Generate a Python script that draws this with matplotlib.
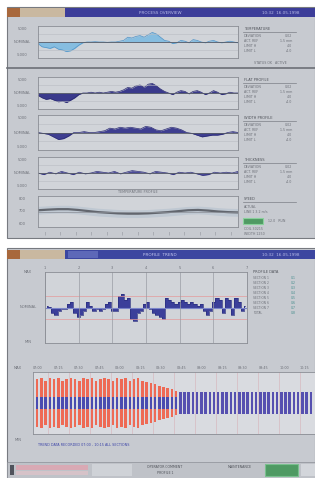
import numpy as np
import matplotlib.pyplot as plt
from matplotlib.patches import Rectangle

W, H = 315, 478

# --- data (arbitrary units) ---
trend1 = [-0.1, -0.3, -0.35, -0.4, -0.3, -0.45, -0.5, -0.6, -0.55, -0.4, -0.2, -0.05, 0, 0, 0.02,
          0, 0, -0.02, 0, 0, 0.05, 0.1, 0.3, 0.25, 0.35, 0.4, 0.3, 0.45, 0.6, 0.5, 0.3, 0.1, 0.05,
          -0.1, -0.05, 0.1, 0.05, -0.05, 0.15, 0.1, 0, -0.05, 0.05, 0.1, 0, -0.05, 0, 0.05, 0, -0.05]
trend2 = [-0.15, -0.3, -0.4, -0.35, -0.45, -0.55, -0.5, -0.6, -0.45, -0.3, -0.1, 0, 0, 0.05, 0,
          0.05, 0, 0.05, 0.1, 0.05, 0.1, 0.2, 0.35, 0.3, 0.45, 0.5, 0.35, 0.55, 0.6, 0.45, 0.25, 0.1,
          0, -0.1, 0.05, 0.15, 0.1, -0.05, 0.1, 0.15, 0.05, -0.1, 0, 0.15, 0.05, -0.1, -0.05, 0.05, 0, 0]
trend3 = [0, -0.05, -0.1, -0.25, -0.4, -0.35, -0.2, 0, 0, 0.05, 0, 0, 0.05, 0.1, 0.25, 0.2, 0.3,
          0.25, 0.3, 0.25, 0.2, 0.35, 0.3, 0.15, 0.1, 0.2, 0.3, 0.25, 0.15, 0, -0.05, -0.15, -0.25,
          -0.2, -0.15, -0.15, -0.1, 0, 0.05, 0]
trend4 = [0, -0.1, 0.05, -0.05, 0.1, 0, -0.1, 0.05, -0.05, 0, 0.1, 0.05, 0, 0.1, -0.05, 0.05, 0.15,
          0.1, 0.05, -0.05, 0.1, 0.05, 0, -0.1, 0.05, 0, 0.05, -0.05, -0.15, -0.1, 0.05, 0, 0.05, 0, 0.1]
trend5 = [0.08, 0.12, 0.15, 0.15, 0.1, 0.03, -0.04, -0.08, -0.12, -0.14, -0.14, -0.12, -0.08, -0.04,
          0.02, 0.08, 0.1, 0.06, 0, -0.04, -0.06]
profile = [0.06, 0.03, -0.18, -0.24, -0.12, -0.06, -0.06, 0.12, 0.18, -0.18, -0.3, -0.24, -0.12,
           0.18, 0.06, -0.12, -0.06, -0.12, -0.06, 0.12, 0.18, -0.12, -0.12, 0.36, 0.42, 0.24, 0.3,
           -0.36, -0.42, -0.18, -0.12, 0.12, 0.18, -0.06, -0.18, -0.24, -0.3, -0.36, 0.3, 0.24, 0.18,
           0.12, 0.18, 0.24, 0.18, 0.12, 0.18, 0.12, 0.06, 0.12, -0.12, -0.24, -0.12, 0.18, 0.3,
           0.24, -0.18, 0.3, 0.24, -0.24, 0.3, 0.18, -0.12, 0.06]
bar_red = [0.95, 1.0, 0.9, 1.0, 0.95, 1.0, 0.9, 0.95, 1.0, 0.95, 0.9, 1.0, 0.95, 1.0, 0.9, 0.95,
           1.0, 0.95, 0.9, 1.0, 0.95, 1.0, 0.9, 0.95, 1.0, 0.9, 0.85, 0.8, 0.75, 0.7, 0.65, 0.6,
           0.55, 0.5, 0.45, 0.45, 0.45, 0.45, 0.45, 0.45, 0.45, 0.45, 0.45, 0.45, 0.45, 0.45, 0.45,
           0.45, 0.45, 0.45, 0.45, 0.45, 0.45, 0.45, 0.45, 0.45, 0.45, 0.45, 0.45, 0.45, 0.45,
           0.45, 0.45, 0.45, 0.45, 0.45]
bar_blue = [0.45] * 28 + [0.45] * 4 + [0.45] * 34
top_ticks = ['1', '2', '3', '4', '5', '6', '7']
bot_ticks = ['07:00', '07:15', '07:30', '07:45', '08:00', '08:15', '08:30', '08:45', '09:00',
             '09:15', '09:30', '09:45', '10:00', '10:15']

BG = '#c7cad0'
PLOT = '#d1d4d9'
NAVY = '#3c3d99'
TXT = '#6d7078'

fig = plt.figure(figsize=(W / 100, H / 100), dpi=100)
fig.patch.set_facecolor('white')
base = fig.add_axes([0, 0, 1, 1])
base.set_xlim(0, W)
base.set_ylim(H, 0)
base.axis('off')


def rect(x, y, w, h, fc, ec='none', lw=0.6, z=1):
    base.add_patch(Rectangle((x, y), w, h, fc=fc, ec=ec, lw=lw, zorder=z))


def txt(x, y, s, size=2.6, color=TXT, **kw):
    base.text(x, y, s, fontsize=size, color=color, va='center', **kw)


def data_ax(x, y, w, h):
    ax = fig.add_axes([x / W, 1 - (y + h) / H, w / W, h / H])
    ax.set_facecolor(PLOT)
    for s in ax.spines.values():
        s.set_color('#8a8d94')
        s.set_linewidth(0.6)
    ax.set_xticks([])
    ax.set_yticks([])
    return ax


# ---------- upper screen ----------
rect(7, 7, 308, 231, BG, ec='#777a80', lw=0.8)
rect(7, 8, 308, 9, NAVY)
rect(7, 8, 58, 9, '#a8683c')
rect(20, 8, 45, 9, '#c9b8a0')
txt(160, 12.5, 'PROCESS OVERVIEW', 3, '#b8bce8', ha='center')
txt(300, 12.5, '10:32  16.05.1998', 3, '#b8bce8', ha='right')
base.plot([7, 315], [68, 68], color='#6c6f76', lw=1.2, zorder=2)

panels = [(26, trend1, '#86bde0', '#4f93c8'), (77, trend2, '#3a3a8c', '#2a2a70'),
          (115, trend3, '#3e3e90', '#2b2b75'), (157, trend4, '#4a4a98', '#30307a')]
heads = ['TEMPERATURE', 'FLAT PROFILE', 'WIDTH PROFILE', 'THICKNESS']
for (y0, vals, fc, lc), head in zip(panels, heads):
    h = 32 if y0 != 115 else 35
    ax = data_ax(38, y0, 200, h)
    xs = np.arange(len(vals))
    ax.fill_between(xs, 0, vals, color=fc, lw=0)
    ax.plot(xs, vals, color=lc, lw=0.5)
    ax.axhline(0, color='#555a66', lw=0.6)
    for g in (-0.5, 0.5):
        ax.axhline(g, color='#b9bcc2', lw=0.4)
    ax.set_xlim(0, len(vals) - 1)
    ax.set_ylim(-1, 1)
    txt(22, y0 + 3, '5000', ha='center')
    txt(22, y0 + h / 2, 'NOMINAL', ha='center')
    txt(22, y0 + h - 3, '-5000', ha='center')
    txt(244, y0 + 3, head, 2.6, '#50535a')
    base.plot([243, 296], [y0 + 6, y0 + 6], color='#7c7f86', lw=0.5)
    for i, (a, b) in enumerate([('DEVIATION', '0.02'), ('ACT. REF', '1.5 mm'),
                                ('LIMIT H', '4.0'), ('LIMIT L', '-4.0')]):
        txt(244, y0 + 10 + i * 5, a, 2.3)
        txt(292, y0 + 10 + i * 5, b, 2.3, ha='right')
txt(270, 63, 'STATUS OK   ACTIVE', 2.3, ha='center')

# smooth gray trend
txt(138, 192, 'TEMPERATURE PROFILE', 2.4, ha='center')
ax5 = data_ax(38, 196, 200, 31)
xs5 = np.arange(len(trend5))
ax5.fill_between(xs5, np.array(trend5) - 0.25, np.array(trend5) + 0.25, color='#bfc8d2', lw=0)
ax5.plot(xs5, trend5, color='#62666e', lw=1.6)
ax5.axhline(0, color='#8a8e96', lw=0.5)
ax5.set_xlim(0, len(trend5) - 1)
ax5.set_ylim(-1, 1)
txt(22, 199, '800', ha='center')
txt(22, 211, '700', ha='center')
txt(22, 224, '600', ha='center')
txt(244, 199, 'SPEED', 2.6, '#50535a')
base.plot([243, 296], [202, 202], color='#7c7f86', lw=0.5)
txt(244, 207, 'ACTUAL', 2.3)
txt(244, 212, 'LINE 1 3.2 m/s', 2.3)
rect(243, 218, 20, 6, '#4f9a63', ec='#8ad19c', lw=0.8, z=3)
txt(268, 221, '12.0   RUN', 2.3)
txt(244, 229, 'COIL 30215', 2.3)
txt(244, 234, 'WIDTH 1250', 2.3)
for k in range(13):
    txt(45 + k * 15.5, 233, '|', 2.3, ha='center')

# ---------- lower screen ----------
rect(7, 248, 308, 230, BG, ec='#777a80', lw=0.8)
rect(7, 250, 308, 9, '#3c46a0')
rect(7, 250, 58, 9, '#a8683c')
rect(20, 250, 45, 9, '#c9b8a0')
rect(68, 251, 30, 7, '#5d68b8')
txt(160, 254.5, 'PROFILE  TREND', 3, '#c4c8f0', ha='center')
txt(300, 254.5, '10:32  16.05.1998', 3, '#b8bce8', ha='right')

axp = data_ax(45, 272, 202, 71)
xp = np.arange(len(profile))
axp.fill_between(xp, 0, profile, color='#3b3f9a', lw=0, step='mid')
axp.step(xp, profile, where='mid', color='#2b2f80', lw=0.5)
axp.axhline(0, color='#7a84c8', lw=0.8)
for g in (-0.36, 0.36):
    axp.axhline(g, color='#e59a9a', lw=0.5)
axp.set_xlim(-0.5, len(profile) - 0.5)
axp.set_ylim(-1.1, 1.1)
for k, lab in enumerate(top_ticks):
    xx = -0.5 + len(profile) * k / (len(top_ticks) - 1)
    axp.axvline(xx, color='#9a9da4', lw=0.5)
    base.text(45 + 202 * k / 6, 270, lab, fontsize=2.6, color=TXT, ha='center', va='bottom')
txt(28, 272, 'MAX', ha='center')
txt(28, 307, 'NOMINAL', ha='center')
txt(28, 342, 'MIN', ha='center')
txt(253, 272, 'PROFILE DATA', 2.6, '#50535a')
for i, lab in enumerate(['SECTION 1', 'SECTION 2', 'SECTION 3', 'SECTION 4',
                         'SECTION 5', 'SECTION 6', 'SECTION 7', 'TOTAL']):
    txt(253, 278 + i * 5, lab, 2.2)
    txt(296, 278 + i * 5, '0.%d' % (i + 1), 2.2, '#3f8a8a', ha='right')

axb = data_ax(33, 372, 282, 62)
axb.set_facecolor('#d9dbe0')
axb.spines['right'].set_visible(False)
xb = np.arange(len(bar_red))
axb.bar(xb, np.array(bar_red) * 2, bottom=-np.array(bar_red), width=0.6, color='#ee6a55', lw=0)
axb.bar(xb, np.array(bar_blue), bottom=-np.array(bar_blue) / 2, width=0.6, color='#4a4cb0', lw=0)
tail = xb >= 34
axb.bar(xb[tail], np.array(bar_red)[tail] * 2, bottom=-np.array(bar_red)[tail], width=0.6,
        color='#5650b0', lw=0)
axb.set_xlim(-1, len(bar_red))
axb.set_ylim(-1.25, 1.25)
for k, lab in enumerate(bot_ticks):
    axb.axvline(k * 5 + 2.5, color='#d7b0b8', lw=0.4, zorder=0)
    base.text(38 + k * 20.5, 368, lab, fontsize=2.4, color=TXT, ha='center', va='center')
txt(18, 368, 'MAX', ha='center')
txt(18, 440, 'MIN', ha='center')
txt(38, 445, 'TREND DATA RECORDED 07:00 - 10:15 ALL SECTIONS', 2.4, '#3d45a8')

rect(7, 462, 308, 16, '#bfc2c8', ec='#8c8f96', lw=0.5)
rect(10, 465, 4, 10, '#50535c')
rect(16, 465, 72, 5, '#d9a9b4')
rect(16, 471, 72, 4, '#d6c2c8')
rect(92, 464, 40, 12, '#cfd2d7')
txt(165, 467, 'OPERATOR COMMENT', 2.3, '#50535a', ha='center')
txt(165, 473, 'PROFILE 1', 2.3, '#50535a', ha='center')
txt(240, 467, 'MAINTENANCE', 2.3, '#50535a', ha='center')
rect(265, 464, 33, 12, '#4f9a63', ec='#79c08e', lw=0.8)
rect(301, 464, 14, 12, '#d3d6db')

fig.savefig('out.png', dpi=100)
